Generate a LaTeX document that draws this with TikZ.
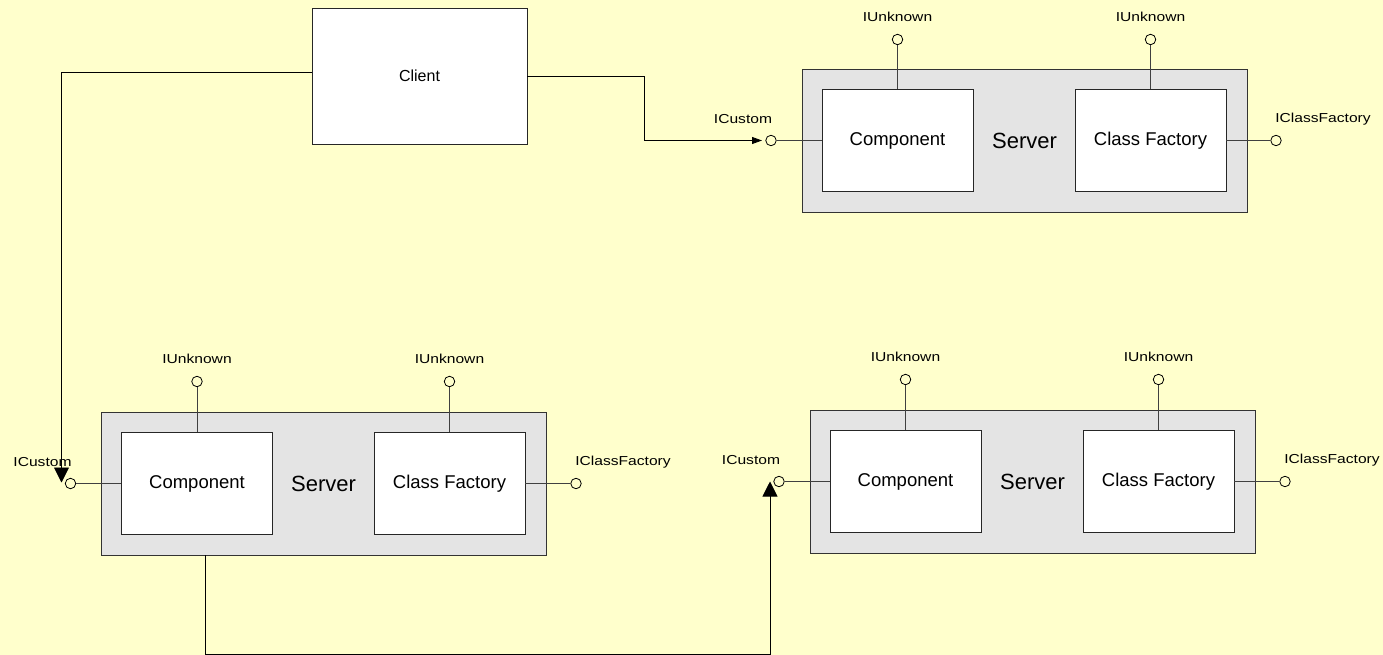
\documentclass[tikz,border=0pt]{standalone}
\usepackage{fontspec}
\setmainfont{Liberation Sans}
\newfontfamily\widefont[FakeStretch=1.2]{Liberation Sans}
\usetikzlibrary{positioning,arrows.meta}
\definecolor{paper}{HTML}{FFFFCC}
\definecolor{srvgray}{HTML}{E4E4E4}
\begin{document}
\begin{tikzpicture}[
  x=1pt, y=1pt,
  >={Triangle[length=15pt,width=15pt]},
  on grid,
  every node/.style={inner sep=0pt, align=center},
  client/.style={draw=black!85, fill=white, line width=0.9pt,
    minimum width=215pt, minimum height=136pt,
    font=\fontsize{16}{19}\selectfont},
  srv/.style={draw=black!80, fill=srvgray, line width=0.9pt,
    minimum width=445pt, minimum height=143pt,
    font=\fontsize{22}{26}\selectfont},
  box/.style={draw=black!85, fill=white, line width=0.9pt,
    minimum width=151pt, minimum height=102pt,
    font=\fontsize{18.5}{22}\selectfont},
  port/.style={draw, circle, minimum size=10.5pt, line width=0.8pt},
  lab/.style={font=\widefont\fontsize{13}{16}\selectfont},
  stub/.style={black!75, line width=0.9pt},
  wire/.style={black, line width=0.9pt},
  small/.style={-{Triangle[length=10pt,width=7pt]}}]

  \useasboundingbox[fill=paper] (0,0) rectangle (1383,-655);

  \node[client] (cl) at (419.5,-76) {Client};

  % server on the top right
  \begin{scope}[xshift=1024.5pt, yshift=-140.5pt]
    \node[srv] (srv1) {Server};
    \node[box, left=127pt of srv1] (comp1) {Component};
    \node[box, right=126pt of srv1] (fact1) {Class Factory};
    \node[port, above=101pt of comp1] (pu1) {};
    \node[port, above=101pt of fact1] (pv1) {};
    \node[port, left=126.5pt of comp1] (pc1) {};
    \node[port, right=125.5pt of fact1] (pf1) {};
    \node[lab, above=23pt of pu1] (lu1) {IUnknown};
    \node[lab, above=23pt of pv1] (lv1) {IUnknown};
    \node[lab, above left=21pt and 28pt of pc1] (lc1) {ICustom};
    \node[lab, above right=21pt and 47pt of pf1] (lf1) {IClassFactory};
    \coordinate (in1) at ([xshift=-9pt]pc1.center);

    \draw[stub] (pu1) -- (comp1);
    \draw[stub] (pv1) -- (fact1);
    \draw[stub] (pc1) -- (comp1);
    \draw[stub] (pf1) -- (fact1);
  \end{scope}

  % server on the bottom left
  \begin{scope}[xshift=323.5pt, yshift=-483.5pt]
    \node[srv] (srv2) {Server};
    \node[box, left=126.5pt of srv2] (comp2) {Component};
    \node[box, right=126pt of srv2] (fact2) {Class Factory};
    \node[port, above=102pt of comp2] (pu2) {};
    \node[port, above=102pt of fact2] (pv2) {};
    \node[port, left=126.5pt of comp2] (pc2) {};
    \node[port, right=126.5pt of fact2] (pf2) {};
    \node[lab, above=23pt of pu2] (lu2) {IUnknown};
    \node[lab, above=23pt of pv2] (lv2) {IUnknown};
    \node[lab, above left=21pt and 28pt of pc2] (lc2) {ICustom};
    \node[lab, above right=21pt and 47pt of pf2] (lf2) {IClassFactory};
    \coordinate (in2) at ([xshift=-9pt,yshift=1pt]pc2.center);

    \draw[stub] (pu2) -- (comp2);
    \draw[stub] (pv2) -- (fact2);
    \draw[stub] (pc2) -- (comp2);
    \draw[stub] (pf2) -- (fact2);
  \end{scope}

  % server on the bottom right
  \begin{scope}[xshift=1032.5pt, yshift=-481.5pt]
    \node[srv] (srv3) {Server};
    \node[box, left=127pt of srv3] (comp3) {Component};
    \node[box, right=126pt of srv3] (fact3) {Class Factory};
    \node[port, above=102pt of comp3] (pu3) {};
    \node[port, above=102pt of fact3] (pv3) {};
    \node[port, left=126.5pt of comp3] (pc3) {};
    \node[port, right=126.5pt of fact3] (pf3) {};
    \node[lab, above=23pt of pu3] (lu3) {IUnknown};
    \node[lab, above=23pt of pv3] (lv3) {IUnknown};
    \node[lab, above left=21pt and 28pt of pc3] (lc3) {ICustom};
    \node[lab, above right=21pt and 47pt of pf3] (lf3) {IClassFactory};
    \coordinate (in3) at ([xshift=-9pt]pc3.center);

    \draw[stub] (pu3) -- (comp3);
    \draw[stub] (pv3) -- (fact3);
    \draw[stub] (pc3) -- (comp3);
    \draw[stub] (pf3) -- (fact3);
  \end{scope}

  % connections
  \draw[wire,small] (cl.east) -| ([xshift=-118pt]in1) -- (in1);
  \draw[wire,->] ([yshift=4pt]cl.west) -| (in2);
  \draw[wire,->] ([xshift=-118.5pt]srv2.south) -- ++(0,-99pt) -| (in3);
\end{tikzpicture}
\end{document}
